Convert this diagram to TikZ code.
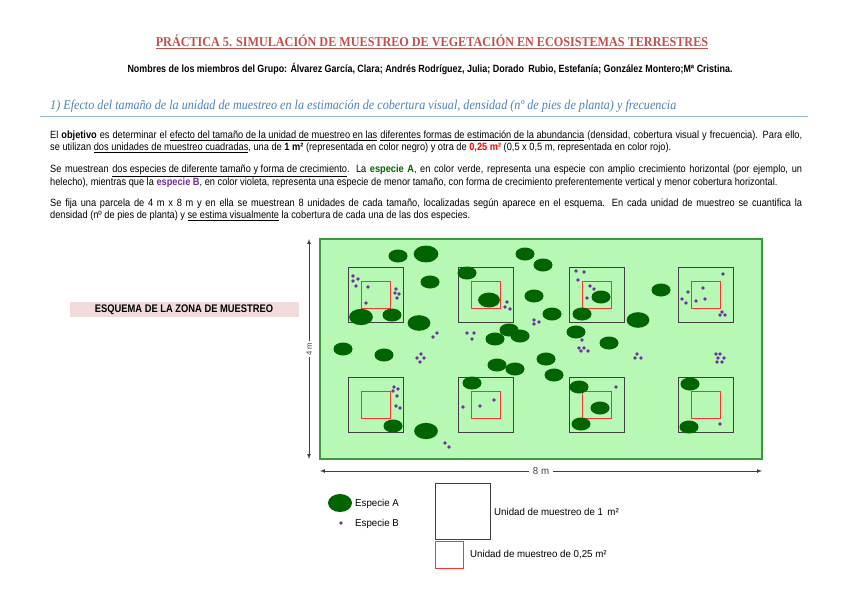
\documentclass[tikz,border=0pt]{standalone}
\usepackage{fontspec}
\setmainfont{Liberation Sans}
\newfontfamily\nar[FakeStretch=0.88]{Liberation Sans}
\newfontfamily\narb[FakeStretch=0.85]{Liberation Sans}
\newfontfamily\leg[FakeStretch=0.97]{Liberation Sans}
\newfontfamily\narser[FakeStretch=0.9]{Liberation Serif}
\definecolor{plotg}{HTML}{B6F8B4}
\definecolor{plotb}{HTML}{3C9A3C}
\definecolor{spa}{HTML}{006400}
\definecolor{spb}{HTML}{7030A0}
\definecolor{ttl}{HTML}{C0504D}
\definecolor{hdb}{HTML}{4F81BD}
\definecolor{pinkb}{HTML}{F2DCDB}
\definecolor{redq}{HTML}{FF3333}
\begin{document}
\begin{tikzpicture}[x=1pt,y=-1pt,
  txt/.style={anchor=west,inner sep=0pt,font=\nar\fontsize{10.5}{12}\selectfont},
  legt/.style={anchor=west,inner sep=0pt,font=\leg\fontsize{10}{12}\selectfont},
  big/.style={draw=black!75,line width=0.9pt},
  small/.style={draw=redq,line width=0.8pt},
  A/.style={fill=spa},B/.style={fill=spb}]
\useasboundingbox (0,0) rectangle (848,599);
\fill[white] (0,0) rectangle (848,599);
\node[inner sep=0pt,text=ttl,font=\narser\bfseries\fontsize{13.5}{15}\selectfont] (title) at (432,42) {\underline{PRÁCTICA 5. SIMULACIÓN DE MUESTREO DE VEGETACIÓN EN ECOSISTEMAS TERRESTRES}};
\node[inner sep=0pt,font=\narb\bfseries\fontsize{10.5}{12}\selectfont] (names) at (430,69) {Nombres de los miembros del Grupo: Álvarez García, Clara; Andrés Rodríguez, Julia; Dorado\, Rubio, Estefanía; González Montero;Mª Cristina.};
\node[anchor=west,inner sep=0pt,text=hdb,font=\narser\itshape\fontsize{13.5}{15}\selectfont] (head) at (50,106) {1) Efecto del tamaño de la unidad de muestreo en la estimación de cobertura visual, densidad (nº de pies de planta) y frecuencia};
\draw[hdb!60,line width=0.6pt] (40,116) -- (808,116);
\node[txt] (p1a) at (50,136) {\makebox[752pt][s]{El \textbf{objetivo} es determinar el \underline{efecto del tamaño de la unidad de muestreo en las} \underline{diferentes formas de estimación de la abundancia} (densidad, cobertura visual y frecuencia). Para ello,}};
\node[txt] (p1b) at (50,148) {se utilizan \underline{dos unidades de muestreo cuadradas}, una de \textbf{1 m²} (representada en color negro) y otra de \textcolor{red}{\textbf{0,25 m²}} (0,5 x 0,5 m, representada en color rojo).};
\node[txt] (p2a) at (50,171) {\makebox[752pt][s]{Se muestrean \underline{dos especies de diferente tamaño y forma de crecimiento}. La \textcolor{spa}{\textbf{especie A}}, en color verde, representa una especie con amplio crecimiento horizontal (por ejemplo, un}};
\node[txt] (p2b) at (50,183) {helecho), mientras que la \textcolor{spb}{\textbf{especie B}}, en color violeta, representa una especie de menor tamaño, con forma de crecimiento preferentemente vertical y menor cobertura horizontal.};
\node[txt] (p3a) at (50,204) {\makebox[752pt][s]{Se fija una parcela de 4 m x 8 m y en ella se muestrean 8 unidades de cada tamaño, localizadas según aparece en el esquema. En cada unidad de muestreo se cuantifica la}};
\node[txt] (p3b) at (50,216) {densidad (nº de pies de planta) y \underline{se estima visualmente} la cobertura de cada una de las dos especies.};
% label
\fill[pinkb] (70,302) rectangle (299,317);
\node[inner sep=0pt,font=\narser\fontsize{1}{1}\selectfont] at (0,0) {};
\node[inner sep=0pt,font=\narb\bfseries\fontsize{11}{13}\selectfont] (lab) at (184,310) {ESQUEMA DE LA ZONA DE MUESTREO};
% plot
\draw[plotb,fill=plotg,line width=1.2pt] (320,239) rectangle (762,459);
\foreach \x in {348,458,569,678}{
  \foreach \y in {267,377}{
    \draw[big] (\x,\y) rectangle ++(55,55);
    \draw[small] (\x+13,\y+14) rectangle ++(29,27);
  }}
\foreach \x/\y/\r in {398/256/1,426/254/1.3,525/254/1,543/265/1,467/273/1,430/282/1,489/300/1.15,534/296/1,601/297/1,661/290/1,361/317/1.25,392/315/1,419/323/1.2,552/314/1,582/314/1,638/320/1.2,509/330/1,520/336/1,495/339/1,576/332/1,609/343/1,343/349/1,384/355/1,497/365/1,515/369/1,546/359/1,554/375/1,472/383/1,579/387/1,690/384/1,600/408/1,393/426/1,426/431/1.25,581/424/1,689/427/1}
  \fill[A] (\x,\y) ellipse ({9.5*\r} and {6.5*\r});
\foreach \x/\y in {353/276,358/279,353/281,356/286,368/287,366/303,396/289,395/293,399/294,397/298,507/302,505/307,510/309,534/320,539/322,534/324,437/333,433/337,467/333,474/333,472/339,421/354,417/358,424/358,420/362,576/271,584/272,578/280,590/286,594/289,587/298,582/340,579/348,584/348,581/351,588/351,723/274,703/288,688/292,682/299,705/299,696/301,686/303,722/312,720/315,725/315,637/354,635/358,641/358,716/354,720/354,718/358,724/358,717/362,722/362,394/387,398/389,393/391,397/396,396/406,400/408,494/400,480/406,463/407,616/387,720/424,445/443,449/447}
  \fill[B] (\x,\y) circle (1.9);
% dimensions
\coordinate (vt) at (309,239); \coordinate (vb) at (309,459);
\draw[black!75,line width=0.7pt,<->,>=latex] (vt) -- node[fill=white,inner sep=2pt,rotate=90,font=\leg\fontsize{8}{9}\selectfont] (l4) {4 m} (vb);
\coordinate (hl) at (320,471); \coordinate (hr) at (762,471);
\draw[black!75,line width=0.7pt,<->,>=latex] (hl) -- node[fill=white,inner sep=4pt,font=\leg\fontsize{10}{11}\selectfont] (l8) {8 m} (hr);
% legend
\fill[A] (340,503) ellipse (12 and 9);
\fill[B] (341,523) circle (1.9);
\node[legt] (la) at (355,504) {Especie A};
\node[legt] (lb) at (355,524) {Especie B};
\draw[big] (435,483) rectangle (490,539);
\draw[small] (435,541) rectangle (463,568);
\node[legt] (l1) at (494,512) {Unidad de muestreo de 1\, m²};
\node[legt] (l2) at (470,555) {Unidad de muestreo de 0,25 m²};
\end{tikzpicture}
\end{document}
